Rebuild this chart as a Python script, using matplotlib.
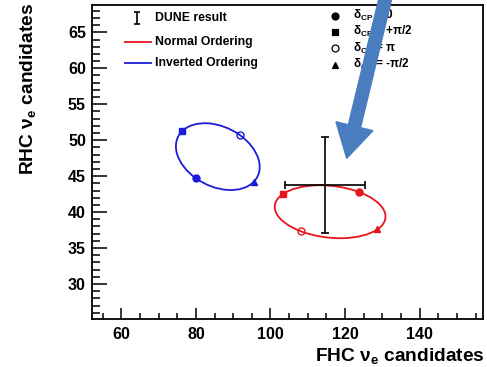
import numpy as np
import matplotlib
matplotlib.use("Agg")
import matplotlib.pyplot as plt
from matplotlib.patches import Circle, FancyArrow
from matplotlib.transforms import Affine2D, IdentityTransform
from matplotlib.ticker import MultipleLocator

plt.rcParams["font.family"] = ["Liberation Sans", "DejaVu Sans"]
plt.rcParams["font.weight"] = "bold"
plt.rcParams["mathtext.fontset"] = "custom"
plt.rcParams["mathtext.rm"] = "Liberation Sans:bold"
plt.rcParams["mathtext.it"] = "Liberation Sans:bold"
plt.rcParams["mathtext.bf"] = "Liberation Sans:bold"
plt.rcParams["mathtext.default"] = "rm"

# Expected event counts at dCP = 0, +pi/2, pi, -pi/2
delta_labels = ["0", "+\u03c0/2", "\u03c0", "-\u03c0/2"]
no_fhc = [123.7, 103.3, 108.3, 128.7]
no_rhc = [42.8, 42.5, 37.3, 37.6]
io_fhc = [80.0, 76.3, 91.7, 95.5]
io_rhc = [44.7, 51.25, 50.7, 44.2]

# Measured point
dune_fhc = 114.6
dune_fhc_err = 10.8
dune_rhc = 43.75
dune_rhc_err = 6.7

marker_styles = [
    dict(marker="o", filled=True),
    dict(marker="s", filled=True),
    dict(marker="o", filled=False),
    dict(marker="^", filled=True),
]

W, H = 487, 367
fig = plt.figure(figsize=(W / 100, H / 100), dpi=100)
ax = fig.add_axes([91.5 / W, 1 - 318.5 / H, 391.5 / W, 313.5 / H])


def draw_ellipse(fhc, rhc, color):
    # N(d) = c + u cos d + v sin d, traced by the unit circle mapped through an affine map
    pts = np.column_stack([fhc, rhc])
    centre = pts.mean(axis=0)
    u = pts[0] - centre
    v = pts[1] - centre
    mat = np.array([[u[0], v[0], centre[0]],
                    [u[1], v[1], centre[1]],
                    [0, 0, 1]])
    ring = Circle((0, 0), 1, fill=False, edgecolor=color, linewidth=1.3,
                  transform=Affine2D(mat) + ax.transData, zorder=2)
    ax.add_patch(ring)
    for x, y, st in zip(fhc, rhc, marker_styles):
        ax.plot(x, y, st["marker"], ms=5, color=color,
                mfc=color if st["filled"] else "none", mew=1.0, zorder=3)


draw_ellipse(no_fhc, no_rhc, "#e8141c")
draw_ellipse(io_fhc, io_rhc, "#1c1cd8")

ax.errorbar(dune_fhc, dune_rhc, xerr=dune_fhc_err, yerr=dune_rhc_err,
            fmt="none", ecolor="black", elinewidth=1.2, capsize=3,
            capthick=1.2, zorder=4)

ax.set_xlim(52, 157)
ax.set_ylim(25.2, 68.8)
ax.xaxis.set_major_locator(MultipleLocator(20))
ax.xaxis.set_minor_locator(MultipleLocator(5))
ax.yaxis.set_major_locator(MultipleLocator(5))
ax.yaxis.set_minor_locator(MultipleLocator(1))
ax.tick_params(axis="x", which="major", direction="in", length=8, width=1.1,
               labelsize=11.5, pad=6)
ax.tick_params(axis="x", which="minor", direction="in", length=4, width=1.1)
ax.tick_params(axis="y", which="major", direction="in", length=11, width=1.1,
               labelsize=11.5, pad=4)
ax.tick_params(axis="y", which="minor", direction="in", length=6, width=1.1)
for lab in ax.get_xticklabels() + ax.get_yticklabels():
    lab.set_fontweight("bold")
for sp in ax.spines.values():
    sp.set_linewidth(1.3)

# axis titles sit at the far ends of the axes
fig.text(485 / W, 1 - 346 / H, r"FHC $\nu_e$ candidates", fontsize=13.8,
         fontweight="bold", ha="right", va="top")
fig.text(28 / W, 1 - 3 / H, r"RHC $\nu_e$ candidates", fontsize=13.8,
         fontweight="bold", ha="center", va="top", rotation=90)

# left legend block
ax.errorbar(0.115, 0.958, yerr=0.02, fmt="none", ecolor="black",
            elinewidth=1.2, capsize=2, capthick=1.2, transform=ax.transAxes,
            clip_on=False)
ax.text(0.162, 0.958, "DUNE result", transform=ax.transAxes, fontsize=8.8,
        fontweight="bold", va="center")
ax.plot([0.086, 0.152], [0.883, 0.883], color="#e8141c", lw=1.3,
        transform=ax.transAxes)
ax.text(0.162, 0.883, "Normal Ordering", transform=ax.transAxes, fontsize=8.8,
        fontweight="bold", va="center")
ax.plot([0.086, 0.152], [0.816, 0.816], color="#1c1cd8", lw=1.3,
        transform=ax.transAxes)
ax.text(0.162, 0.816, "Inverted Ordering", transform=ax.transAxes,
        fontsize=8.8, fontweight="bold", va="center")

# right legend block: dCP markers
rows = [0.966, 0.915, 0.862, 0.809]
for y, st, lab in zip(rows, marker_styles, delta_labels):
    ax.plot(0.623, y, st["marker"], ms=5, color="black",
            mfc="black" if st["filled"] else "none", mew=0.9,
            transform=ax.transAxes)
    ax.text(0.668, y, r"$\delta_{CP}$ = " + lab, transform=ax.transAxes,
            fontsize=8.5, fontweight="bold", va="center")

# pointer arrow in pixel space
tip = np.array([346.7, H - 158.3])
direction = np.array([-0.235, -0.972])
length = 175
start = tip - length * direction
arrow = FancyArrow(start[0], start[1], *(length * direction), width=12.5,
                   head_width=38, head_length=33, length_includes_head=True,
                   color="#4a7dbf", transform=IdentityTransform(), zorder=10)
fig.add_artist(arrow)

fig.savefig("out.png", dpi=100)
